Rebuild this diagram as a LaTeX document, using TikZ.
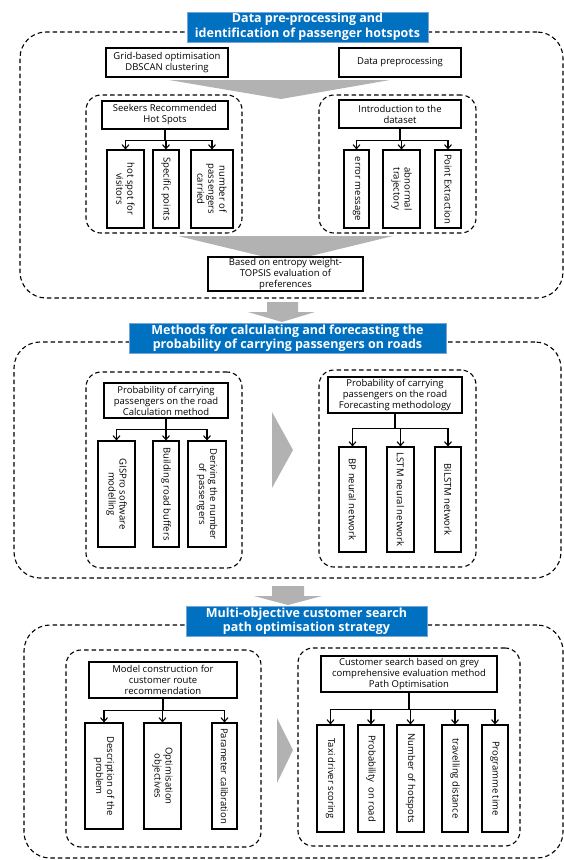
\documentclass[tikz,border=0pt]{standalone}
\usepackage{fontspec}
\setmainfont{Open Sans}
\usetikzlibrary{arrows.meta,positioning,calc}
\definecolor{HeadBlue}{RGB}{0,112,192}
\definecolor{HeadEdge}{RGB}{120,165,215}
\definecolor{ArrGray}{RGB}{178,178,178}
\tikzset{
  secframe/.style={draw=black,line width=1.1pt,dash pattern=on 4.5pt off 3pt,rounded corners=26pt},
  subframe/.style={draw=black,line width=1.1pt,dash pattern=on 4.5pt off 3pt,rounded corners=15pt},
  headbox/.style={fill=HeadBlue,draw=HeadEdge,line width=0.8pt,text=white,align=center,inner sep=0.5pt,font=\bfseries\fontsize{12.5}{14.5}\selectfont},
  pbox/.style={draw=black,line width=1.1pt,fill=white,align=center,inner sep=1pt},
  vbox/.style={draw=black,line width=1.1pt,fill=white,align=center,inner sep=1pt,rotate=-90},
  stem/.style={line width=1.1pt},
  arr/.style={-{Straight Barb[length=4pt,width=7pt]},line width=1.1pt},
}

\begin{document}
\begin{tikzpicture}[x=1pt,y=-1pt,font=\fontsize{9.5}{11}\selectfont]
  \useasboundingbox (0,0) rectangle (564,860);
  % data pre-processing
  \node[secframe,minimum width=543pt,minimum height=266pt] (f1) at (291.5,165) {};
  \node[subframe,minimum width=156pt,minimum height=138pt] (f1a) at (164,164) {};
  \node[subframe,minimum width=157pt,minimum height=138pt] (f1b) at (397.5,164) {};
  \fill[ArrGray] (169,80) -- (390,80) -- (281,99) -- cycle;
  \fill[ArrGray] (178,236) -- (393,236) -- (286,262) -- cycle;
  \node[headbox,minimum width=241pt,minimum height=30pt] (t1) at (307.5,27) {Data pre-processing and\\identification of passenger hotspots};
  \node[pbox,minimum width=122pt,minimum height=29pt] (g1) at (167,62.5) {Grid-based optimisation\\DBSCAN clustering};
  \node[pbox,minimum width=122pt,minimum height=29pt] (d1) at (400,62.5) {Data preprocessing};
  \node[pbox,minimum width=126pt,minimum height=28pt] (s1) at (165,115) {Seekers Recommended\\Hot Spots};
  \node[vbox,minimum width=78pt,minimum height=37pt] (c11) at (125.5,189) {hot spot for\\visitors};
  \node[vbox,minimum width=78pt,minimum height=26pt] (c12) at (166,189) {Specific points};
  \node[vbox,minimum width=78pt,minimum height=42pt] (c13) at (212,189) {number of\\passengers\\carried};
  \node[pbox,minimum width=122pt,minimum height=28pt] (n1) at (400,114) {Introduction to the\\dataset};
  \node[vbox,minimum width=78pt,minimum height=25pt] (c14) at (356.5,189) {error message};
  \node[vbox,minimum width=78pt,minimum height=37pt] (c15) at (401.5,189) {abnormal\\trajectory};
  \node[vbox,minimum width=78pt,minimum height=26pt] (c16) at (448,189) {Point Extraction};
  \node[pbox,minimum width=155pt,minimum height=34pt] (b1) at (285.5,274) {Based on entropy weight-\\TOPSIS evaluation of\\preferences};
  \draw[stem] (s1.south) -- ++(0,11) coordinate (j1);
  \foreach \c in {c11,c12,c13} \draw[arr] (j1) -| (\c);
  \draw[stem] (n1.south) -- ++(0,12) coordinate (j2);
  \foreach \c in {c14,c15,c16} \draw[arr] (j2) -| (\c);

  \fill[ArrGray] (267,302) -- (298,302) -- (298,312) -- (315,312) -- (282,322) -- (248,312) -- (267,312) -- cycle;

  % road probability
  \node[secframe,minimum width=547pt,minimum height=236pt] (f2) at (287.5,460) {};
  \node[subframe,minimum width=156pt,minimum height=196pt] (f2a) at (164,470) {};
  \node[subframe,minimum width=157pt,minimum height=197pt] (f2b) at (397.5,468.5) {};
  \fill[ArrGray] (272,412) -- (293,450) -- (272,488) -- cycle;
  \node[headbox,minimum width=317pt,minimum height=30pt] (t2) at (287.5,338) {Methods for calculating and forecasting the\\probability of carrying passengers on roads};
  \node[pbox,minimum width=124pt,minimum height=35pt] (p2) at (166,400.5) {Probability of carrying\\passengers on the road\\Calculation method};
  \node[vbox,minimum width=106pt,minimum height=37pt] (c21) at (116.5,494) {GISPro software\\modelling};
  \node[vbox,minimum width=106pt,minimum height=26pt] (c22) at (166,494) {Building road buffers};
  \node[vbox,minimum width=106pt,minimum height=38pt] (c23) at (207,494) {Deriving the number\\of passengers};
  \node[pbox,minimum width=134pt,minimum height=36pt] (q2) at (395,395) {Probability of carrying\\passengers on the road\\Forecasting methodology};
  \node[vbox,minimum width=105pt,minimum height=27pt] (c24) at (352.5,499.5) {BP neural network};
  \node[vbox,minimum width=105pt,minimum height=27pt] (c25) at (400.5,499.5) {LSTM neural network};
  \node[vbox,minimum width=105pt,minimum height=26pt] (c26) at (448,499.5) {BiLSTM network};
  \draw[stem] (p2.south) -- ++(0,11) coordinate (j3);
  \foreach \c in {c21,c22,c23} \draw[arr] (j3) -| (\c);
  \draw[stem] (q2.south) -- ++(0,15) coordinate (j4);
  \foreach \c in {c24,c25,c26} \draw[arr] (j4) -| (\c);

  \fill[ArrGray] (272,586) -- (304,586) -- (304,596) -- (322,596) -- (288,605) -- (254,596) -- (272,596) -- cycle;

  % search path optimisation
  \node[secframe,minimum width=539pt,minimum height=233pt] (f3) at (293.5,741.5) {};
  \node[subframe,minimum width=195pt,minimum height=197pt] (f3a) at (163.5,748.5) {};
  \node[subframe,minimum width=222pt,minimum height=198pt] (f3b) at (409,747) {};
  \fill[ArrGray] (277,718) -- (293,750) -- (277,783) -- cycle;
  \node[headbox,minimum width=241pt,minimum height=30pt] (t3) at (306.5,621) {Multi-objective customer search\\path optimisation strategy};
  \node[pbox,minimum width=148pt,minimum height=36pt] (m3) at (163,680) {Model construction for\\customer route\\recommendation};
  \node[vbox,minimum width=106pt,minimum height=38pt] (c31) at (104,776) {Description of the\\problem};
  \node[vbox,minimum width=106pt,minimum height=37pt] (c32) at (162.5,776) {Optimisation\\objectives};
  \node[vbox,minimum width=106pt,minimum height=25pt] (c33) at (224.5,776) {Parameter calibration};
  \node[pbox,minimum width=176pt,minimum height=36pt] (k3) at (409,674) {Customer search based on grey\\comprehensive evaluation method\\Path Optimisation};
  \node[vbox,minimum width=107pt,minimum height=27pt] (c34) at (330.5,778.5) {Taxi driver scoring};
  \node[vbox,minimum width=107pt,minimum height=26pt] (c35) at (371,778.5) {Probability\ \ on road};
  \node[vbox,minimum width=107pt,minimum height=27pt] (c36) at (410.5,778.5) {Number of hotspots};
  \node[vbox,minimum width=107pt,minimum height=26pt] (c37) at (455,778.5) {travelling distance};
  \node[vbox,minimum width=107pt,minimum height=26pt] (c38) at (495,778.5) {Programme time};
  \draw[stem] (m3.south) -- ++(0,12) coordinate (j5);
  \foreach \c in {c31,c32,c33} \draw[arr] (j5) -| (\c);
  \draw[stem] (k3.south) -- ++(0,17) coordinate (j6);
  \foreach \c in {c34,c35,c36,c37,c38} \draw[arr] (j6) -| (\c);
\end{tikzpicture}
\end{document}
